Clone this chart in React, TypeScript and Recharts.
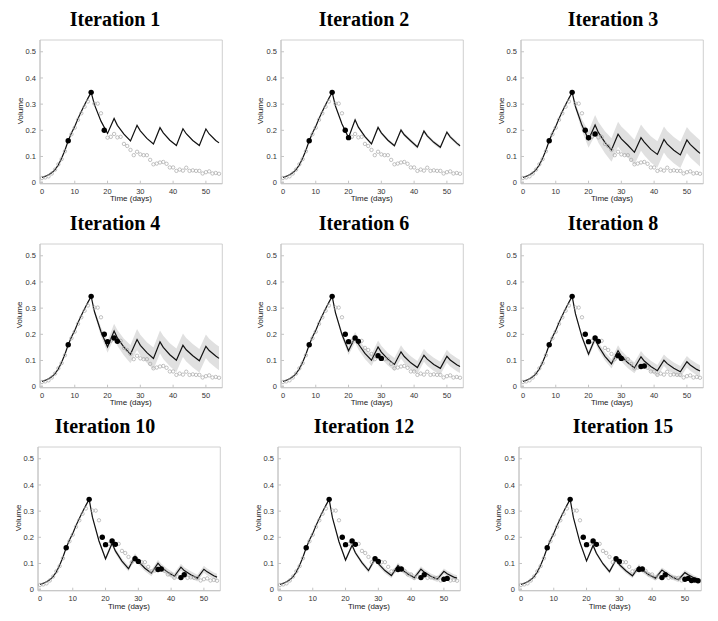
import React from 'react';
import {
  ComposedChart, Line, Area, Scatter, XAxis, YAxis, ReferenceArea,
} from 'recharts';

// observed tumour volume, one value per day (day 0..54)
const OBS_VOLUME = [
  0.018, 0.02, 0.024, 0.035, 0.05, 0.07, 0.09, 0.12, 0.16, 0.185,
  0.21, 0.24, 0.265, 0.29, 0.31, 0.345, 0.302, 0.302, 0.265, 0.2,
  0.172, 0.175, 0.186, 0.173, 0.175, 0.148, 0.14, 0.125, 0.105, 0.118,
  0.108, 0.105, 0.105, 0.087, 0.07, 0.073, 0.077, 0.079, 0.072, 0.058,
  0.058, 0.045, 0.05, 0.046, 0.057, 0.045, 0.047, 0.045, 0.045, 0.035,
  0.04, 0.043, 0.035, 0.037, 0.034,
];

// model curve before treatment is the same in every panel
const GROWTH_DAYS = [0, 1, 2, 3, 4, 5, 6, 7, 8, 9, 10, 11, 12, 13, 14, 15];
const GROWTH = [0.02, 0.024, 0.03, 0.038, 0.05, 0.068, 0.093, 0.124, 0.16, 0.19, 0.215, 0.245, 0.272, 0.298, 0.322, 0.345];

// knots of the treated part of the model curve
const FIT_DAYS = [16, 18, 20, 22, 23, 25, 27, 29, 30, 32, 34, 36, 37, 39, 41, 43, 44, 46, 48, 50, 51, 53, 54];

const FIT_1 = [0.298, 0.235, 0.188, 0.245, 0.219, 0.185, 0.159, 0.219, 0.198, 0.169, 0.148, 0.21, 0.19, 0.162, 0.142, 0.206, 0.187, 0.161, 0.142, 0.205, 0.186, 0.161, 0.152];
const FIT_2 = [0.293, 0.224, 0.172, 0.24, 0.212, 0.176, 0.148, 0.211, 0.19, 0.162, 0.141, 0.201, 0.183, 0.159, 0.136, 0.197, 0.179, 0.154, 0.135, 0.193, 0.175, 0.151, 0.141];
const FIT_3 = [0.291, 0.219, 0.165, 0.22, 0.192, 0.154, 0.125, 0.185, 0.167, 0.143, 0.116, 0.172, 0.155, 0.127, 0.108, 0.165, 0.147, 0.124, 0.106, 0.163, 0.146, 0.123, 0.112];
const FIT_4 = [0.287, 0.21, 0.152, 0.213, 0.186, 0.151, 0.124, 0.18, 0.158, 0.13, 0.108, 0.171, 0.15, 0.122, 0.101, 0.158, 0.141, 0.118, 0.099, 0.154, 0.138, 0.117, 0.108];
const FIT_6 = [0.283, 0.199, 0.137, 0.189, 0.163, 0.127, 0.101, 0.152, 0.132, 0.105, 0.085, 0.133, 0.115, 0.091, 0.073, 0.12, 0.105, 0.085, 0.07, 0.116, 0.102, 0.084, 0.077];
const FIT_8 = [0.279, 0.19, 0.124, 0.184, 0.155, 0.116, 0.087, 0.137, 0.117, 0.091, 0.072, 0.114, 0.098, 0.077, 0.061, 0.101, 0.088, 0.07, 0.057, 0.095, 0.083, 0.066, 0.06];
const FIT_10 = [0.277, 0.186, 0.118, 0.177, 0.148, 0.109, 0.08, 0.127, 0.108, 0.082, 0.063, 0.101, 0.086, 0.066, 0.051, 0.086, 0.073, 0.057, 0.044, 0.078, 0.068, 0.053, 0.048];
const FIT_12 = [0.275, 0.183, 0.113, 0.17, 0.141, 0.103, 0.073, 0.118, 0.099, 0.073, 0.054, 0.092, 0.078, 0.06, 0.046, 0.078, 0.067, 0.051, 0.04, 0.07, 0.061, 0.048, 0.044];
const FIT_15 = [0.275, 0.18, 0.11, 0.169, 0.139, 0.099, 0.069, 0.115, 0.096, 0.072, 0.053, 0.088, 0.075, 0.057, 0.044, 0.075, 0.066, 0.049, 0.038, 0.065, 0.057, 0.043, 0.038];

// half width of the grey uncertainty band at the same knots
const SPREAD_1 = [0.001, 0.002, 0.002, 0.002, 0.002, 0.002, 0.002, 0.002, 0.002, 0.002, 0.002, 0.002, 0.002, 0.002, 0.002, 0.002, 0.002, 0.002, 0.002, 0.002, 0.002, 0.002, 0.002];
const SPREAD_2 = [0.002, 0.003, 0.004, 0.005, 0.005, 0.005, 0.006, 0.006, 0.006, 0.006, 0.006, 0.007, 0.007, 0.007, 0.007, 0.007, 0.007, 0.007, 0.007, 0.007, 0.007, 0.007, 0.007];
const SPREAD_3 = [0.01, 0.022, 0.032, 0.038, 0.04, 0.042, 0.045, 0.048, 0.048, 0.048, 0.048, 0.05, 0.05, 0.05, 0.05, 0.05, 0.05, 0.05, 0.05, 0.05, 0.05, 0.05, 0.05];
const SPREAD_4 = [0.008, 0.017, 0.022, 0.027, 0.03, 0.032, 0.035, 0.04, 0.04, 0.04, 0.042, 0.044, 0.044, 0.044, 0.045, 0.045, 0.045, 0.045, 0.045, 0.045, 0.045, 0.045, 0.045];
const SPREAD_6 = [0.006, 0.012, 0.016, 0.02, 0.021, 0.021, 0.022, 0.024, 0.024, 0.024, 0.024, 0.025, 0.025, 0.025, 0.025, 0.025, 0.025, 0.025, 0.025, 0.025, 0.025, 0.025, 0.025];
const SPREAD_8 = [0.005, 0.009, 0.012, 0.014, 0.015, 0.016, 0.018, 0.021, 0.021, 0.021, 0.021, 0.022, 0.022, 0.022, 0.022, 0.022, 0.022, 0.022, 0.022, 0.022, 0.022, 0.022, 0.022];
const SPREAD_10 = [0.003, 0.006, 0.008, 0.01, 0.01, 0.01, 0.011, 0.012, 0.012, 0.012, 0.012, 0.013, 0.013, 0.013, 0.013, 0.013, 0.013, 0.013, 0.013, 0.013, 0.013, 0.013, 0.013];
const SPREAD_12 = [0.002, 0.005, 0.007, 0.008, 0.008, 0.008, 0.009, 0.01, 0.01, 0.01, 0.01, 0.011, 0.011, 0.011, 0.011, 0.011, 0.011, 0.011, 0.011, 0.011, 0.011, 0.011, 0.011];
const SPREAD_15 = [0.002, 0.004, 0.006, 0.007, 0.007, 0.007, 0.008, 0.009, 0.009, 0.009, 0.009, 0.01, 0.01, 0.01, 0.01, 0.01, 0.01, 0.01, 0.01, 0.01, 0.01, 0.01, 0.01];

// days whose measurement has been used (filled dots)
const PICKED_1 = [8, 15, 19];
const PICKED_2 = [8, 15, 19, 20];
const PICKED_3 = [8, 15, 19, 20, 22];
const PICKED_4 = [8, 15, 19, 20, 22, 23];
const PICKED_6 = [8, 15, 19, 20, 22, 23, 29, 30];
const PICKED_8 = [8, 15, 19, 20, 22, 23, 29, 30, 36, 37];
const PICKED_10 = [8, 15, 19, 20, 22, 23, 29, 30, 36, 37, 43, 44];
const PICKED_12 = [8, 15, 19, 20, 22, 23, 29, 30, 36, 37, 43, 44, 50, 51];
const PICKED_15 = [8, 15, 19, 20, 22, 23, 29, 30, 36, 37, 43, 44, 50, 51, 52, 53, 54];

const Y_TICKS = [0, 0.1, 0.2, 0.3, 0.4, 0.5];
const X_TICKS = [0, 10, 20, 30, 40, 50];

const PANELS = [
  { title: 'Iteration 1', fit: FIT_1, spread: SPREAD_1, picked: PICKED_1, x0: 42, y0: 182.7, tx: 115 },
  { title: 'Iteration 2', fit: FIT_2, spread: SPREAD_2, picked: PICKED_2, x0: 282.7, y0: 182.7, tx: 364 },
  { title: 'Iteration 3', fit: FIT_3, spread: SPREAD_3, picked: PICKED_3, x0: 523, y0: 182.7, tx: 613 },
  { title: 'Iteration 4', fit: FIT_4, spread: SPREAD_4, picked: PICKED_4, x0: 41.7, y0: 386.7, tx: 115 },
  { title: 'Iteration 6', fit: FIT_6, spread: SPREAD_6, picked: PICKED_6, x0: 282.7, y0: 386.7, tx: 364 },
  { title: 'Iteration 8', fit: FIT_8, spread: SPREAD_8, picked: PICKED_8, x0: 523, y0: 386.7, tx: 613 },
  { title: 'Iteration 10', fit: FIT_10, spread: SPREAD_10, picked: PICKED_10, x0: 40, y0: 590, tx: 105 },
  { title: 'Iteration 12', fit: FIT_12, spread: SPREAD_12, picked: PICKED_12, x0: 280, y0: 590, tx: 364 },
  { title: 'Iteration 15', fit: FIT_15, spread: SPREAD_15, picked: PICKED_15, x0: 520.7, y0: 590, tx: 623 },
];

const FRAME = '#c4c4c4';
const tickFont = { fontSize: 7.5, fill: '#333', fontFamily: 'Liberation Sans, Arial, sans-serif' };

const obsData = OBS_VOLUME.map((v, day) => ({ day, v }));

const OpenCircle = (props: any) => (
  <circle cx={props.cx} cy={props.cy} r={1.7} fill="none" stroke="#a8a8a8" strokeWidth={0.7} />
);
const FilledDot = (props: any) => (
  <circle cx={props.cx} cy={props.cy} r={2.7} fill="#000" />
);

function Panel({ p }: { p: any }) {
  const model = [
    ...GROWTH_DAYS.map((day, i) => ({ day, v: GROWTH[i], band: [GROWTH[i], GROWTH[i]] })),
    ...FIT_DAYS.map((day, i) => ({
      day, v: p.fit[i], band: [p.fit[i] - p.spread[i], p.fit[i] + p.spread[i]],
    })),
  ];
  const picked = p.picked.map((day: number) => ({ day, v: OBS_VOLUME[day] }));
  const left = p.x0 - 42;
  const top = p.y0 - 182.7;

  return (
    <>
      <div style={{
        position: 'absolute', left: p.tx - 100, width: 200, top: p.y0 - 157 - 16.75,
        textAlign: 'center', fontFamily: 'Liberation Serif, Times New Roman, serif',
        fontWeight: 'bold', fontSize: 20, lineHeight: '20px', color: '#000',
      }}>
        {p.title}
      </div>
      <div style={{ position: 'absolute', left, top }}>
        <ComposedChart width={240} height={205} data={model}
          margin={{ top: 40, right: 17.7, bottom: 0, left: 10 }}>
          <XAxis dataKey="day" type="number" domain={[-0.6, 55]} ticks={X_TICKS}
            height={21.3} tickSize={-3} tickMargin={7.6} tick={tickFont}
            stroke={FRAME} interval={0} />
          <XAxis xAxisId="top" orientation="top" dataKey="day" type="number" domain={[-0.6, 55]}
            ticks={X_TICKS} height={0} tickSize={-3} tickFormatter={() => ''} stroke={FRAME} interval={0} />
          <YAxis type="number" domain={[-0.004, 0.545]} ticks={Y_TICKS} width={30}
            tickSize={-3} tickMargin={7} tick={tickFont} stroke={FRAME} interval={0} />
          <YAxis yAxisId="right" orientation="right" type="number" domain={[-0.004, 0.545]}
            ticks={Y_TICKS} width={0} tickSize={-3} tickFormatter={() => ''} stroke={FRAME} interval={0} />
          <ReferenceArea x1={-0.6} x2={55} y1={-0.004} y2={0.545} fill="none"
            stroke={FRAME} strokeWidth={0.8} />
          <Area dataKey="band" type="linear" stroke="none" fill="#e0e0e0" fillOpacity={1}
            isAnimationActive={false} />
          <Scatter data={obsData} dataKey="v" shape={OpenCircle} isAnimationActive={false} />
          <Line dataKey="v" type="linear" stroke="#111" strokeWidth={1.2} dot={false}
            isAnimationActive={false} />
          <Scatter data={picked} dataKey="v" shape={FilledDot} isAnimationActive={false} />
        </ComposedChart>
      </div>
      <div style={{
        position: 'absolute', left: p.x0 - 21.3 - 30, width: 60, top: p.y0 - 71.7 - 6,
        height: 12, lineHeight: '12px', textAlign: 'center', transform: 'rotate(-90deg)',
        fontFamily: 'Liberation Sans, Arial, sans-serif', fontSize: 8, color: '#222',
      }}>
        Volume
      </div>
      <div style={{
        position: 'absolute', left: p.x0 + 89 - 40, width: 80, top: p.y0 + 16.5 - 6,
        height: 12, lineHeight: '12px', textAlign: 'center',
        fontFamily: 'Liberation Sans, Arial, sans-serif', fontSize: 8, color: '#222',
      }}>
        Time (days)
      </div>
    </>
  );
}

export default function App() {
  return (
    <div style={{ position: 'absolute', left: 0, top: 0, width: 718, height: 621, background: '#fff', overflow: 'hidden' }}>
      {PANELS.map((p) => (
        <Panel key={p.title} p={p} />
      ))}
    </div>
  );
}
